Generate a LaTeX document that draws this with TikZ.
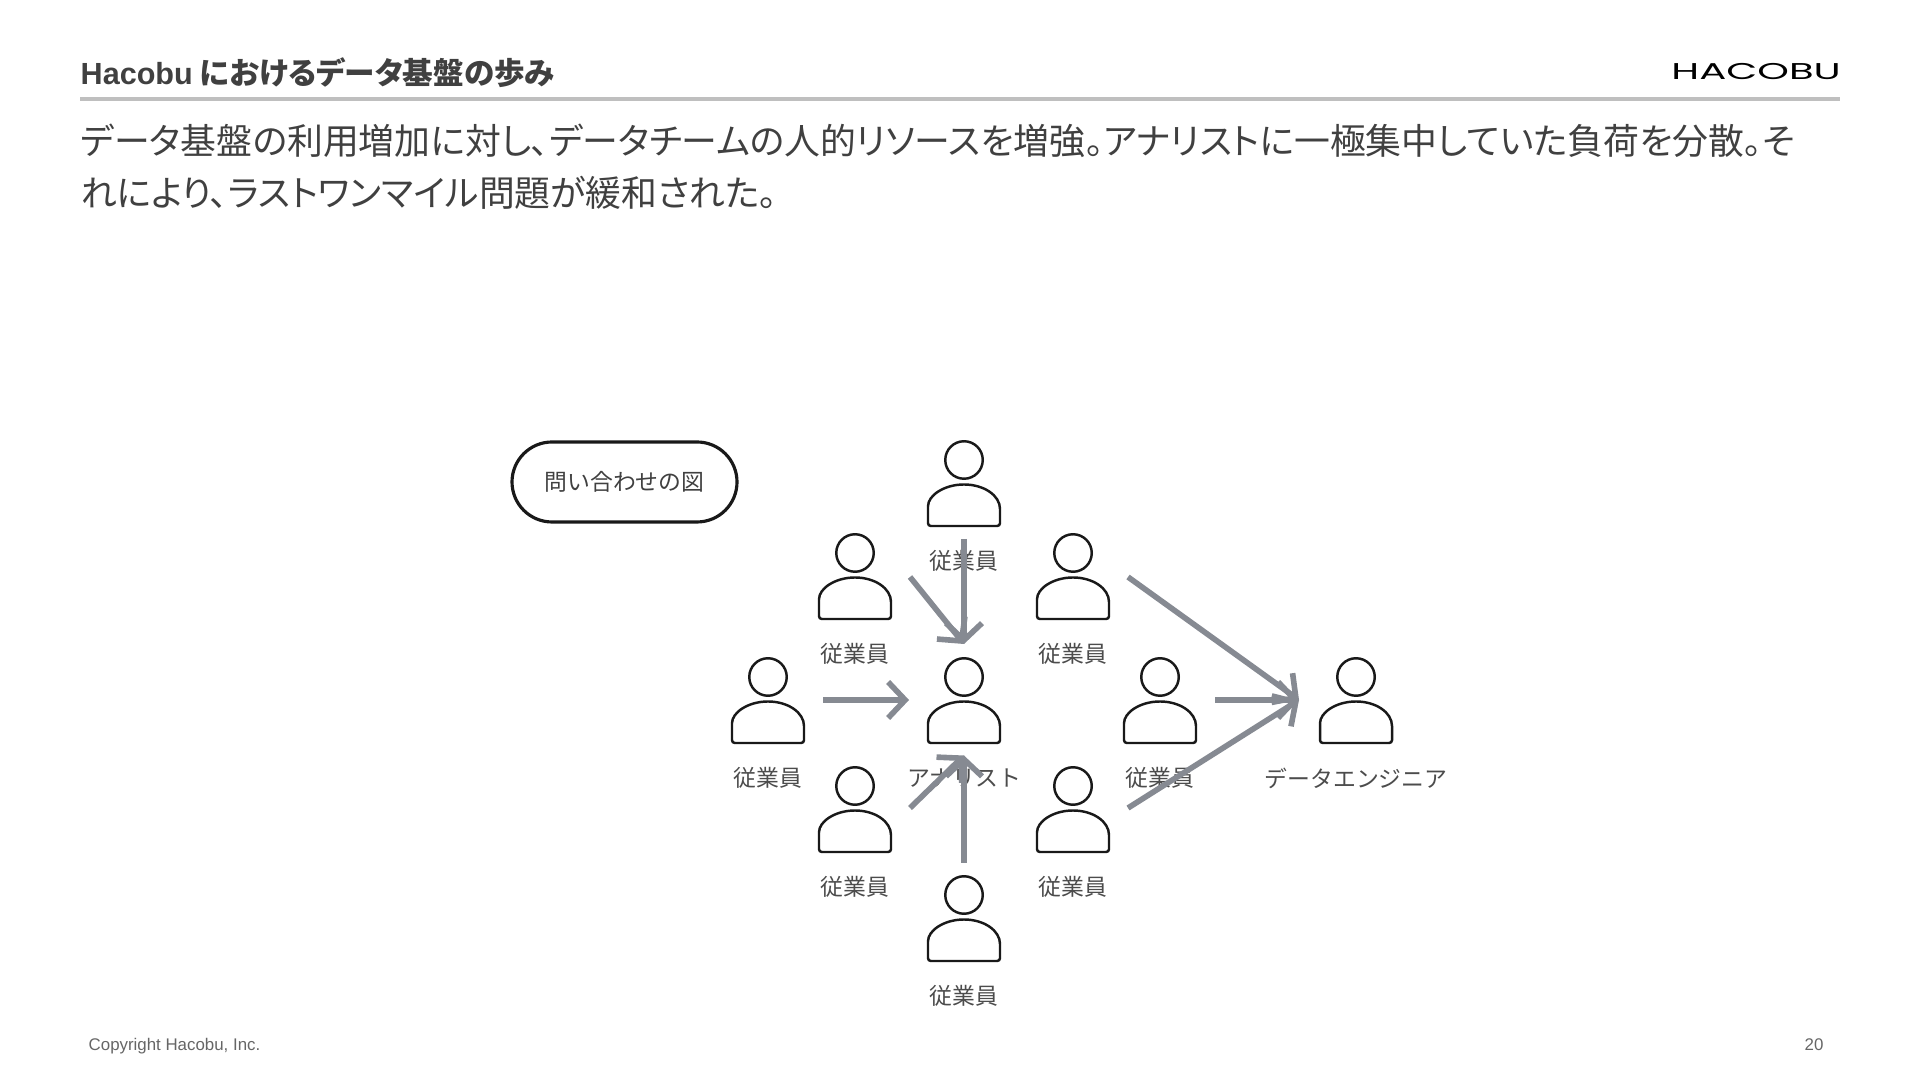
\documentclass[tikz,border=0pt]{standalone}
\usepackage{fontspec}
\setmainfont{Liberation Sans}
\newfontfamily\jpfont{Noto Sans CJK JP}
\newfontfamily\jpleadfont[RawFeature=+palt]{Noto Sans CJK JP}
\newfontfamily\logofont{Poppins}
\usetikzlibrary{arrows.meta, calc}
\definecolor{arrowgray}{HTML}{868A92}

\begin{document}
\begin{tikzpicture}[
        heading text/.style={anchor=west, inner sep=0pt, font=\fontsize{8.7}{10}\selectfont\bfseries\jpleadfont, text=black!75},
        lead text/.style={anchor=west, inner sep=0pt, font=\fontsize{10.2}{12}\selectfont\jpleadfont, text=black!75},
        foot text/.style={inner sep=0pt, font=\fontsize{4.8}{6}\selectfont, text=black!60},
        person text/.style={inner sep=0pt, font=\fontsize{6.5}{8}\selectfont\jpfont, text=black!70},
        person head/.style={draw=black!90, line width=0.7pt, circle, inner sep=0pt, minimum size=0.375cm},
        ask/.style={-{Straight Barb[length=0.17cm, width=0.36cm]}, draw=arrowgray, line width=1.6pt},
        person/.pic={
            \node[person head] (-head) at (0, 0) {};
            \draw[draw=black!90, line width=0.7pt, rounded corners=0.8pt]
                (-0.36, -0.66) -- (-0.36, -0.49)
                [sharp corners] arc[start angle=180, end angle=0, x radius=0.36, y radius=0.245]
                [rounded corners=0.8pt] -- (0.36, -0.66) -- cycle;
            \node[person text] (-label) at (0, -1.01) {#1};
        }
    ]
        \useasboundingbox (0, 0) rectangle (19.2, 10.8);

        \node[heading text] (heading) at (0.80, 10.07) {{\fontspec{Liberation Sans}Hacobu} におけるデータ基盤の歩み};
        \node[inner sep=0pt, anchor=east, font=\fontsize{6.5}{8}\selectfont\logofont, xscale=1.76, transform shape] (logo) at (18.42, 10.08) {HACOBU};
        \coordinate (ruleL) at (0.80, 9.81);
        \coordinate (ruleR) at (18.40, 9.81);
        \draw[draw=black!25, line width=0.9pt] (ruleL) -- (ruleR);

        \node[lead text] (line1) at (0.80, 9.39) {データ基盤の利用増加に対し、データチームの人的リソースを増強。アナリストに一極集中していた負荷を分散。そ};
        \node[lead text] (line2) at (0.80, 8.87) {れにより、ラストワンマイル問題が緩和された。};

        \node[draw=black!90, line width=0.9pt, rounded corners=0.4cm, minimum width=2.25cm, minimum height=0.80cm,
              inner sep=0pt, font=\fontsize{6.5}{8}\selectfont\jpfont, text=black!75] (legend) at (6.245, 5.98) {問い合わせの図};

        \pic (top) at (9.64, 6.20) {person={従業員}};
        \pic (upL) at (8.55, 5.27) {person={従業員}};
        \pic (upR) at (10.73, 5.27) {person={従業員}};
        \pic (left) at (7.68, 4.03) {person={従業員}};
        \pic (ana) at (9.64, 4.03) {person={アナリスト}};
        \pic (right) at (11.60, 4.03) {person={従業員}};
        \pic (eng) at (13.56, 4.03) {person={データエンジニア}};
        \pic (lowL) at (8.55, 2.94) {person={従業員}};
        \pic (lowR) at (10.73, 2.94) {person={従業員}};
        \pic (bot) at (9.64, 1.85) {person={従業員}};

        \coordinate (anaN) at (9.64, 4.36);
        \coordinate (anaW) at (9.09, 3.80);
        \coordinate (anaS) at (9.64, 3.245);
        \coordinate (engW) at (12.99, 3.80);

        \coordinate (topA) at (9.64, 5.41);
        \coordinate (upLA) at (9.10, 5.03);
        \coordinate (leftA) at (8.23, 3.80);
        \coordinate (lowLA) at (9.10, 2.72);
        \coordinate (botA) at (9.64, 2.17);
        \coordinate (upRA) at (11.28, 5.03);
        \coordinate (rightA) at (12.15, 3.80);
        \coordinate (lowRA) at (11.28, 2.72);

        \draw[ask] (topA) -- (anaN);
        \draw[ask] (upLA) -- (anaN);
        \draw[ask] (leftA) -- (anaW);
        \draw[ask] (lowLA) -- (anaS);
        \draw[ask] (botA) -- (anaS);
        \draw[ask] (upRA) -- (engW);
        \draw[ask] (rightA) -- (engW);
        \draw[ask] (lowRA) -- (engW);

        \node[foot text, anchor=west] (copy) at (0.88, 0.335) {Copyright Hacobu, Inc.};
        \node[foot text] (page) at (18.14, 0.355) {20};
\end{tikzpicture}
\end{document}
